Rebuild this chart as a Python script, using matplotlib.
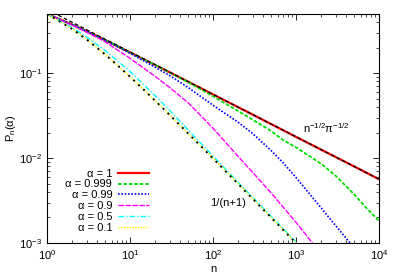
import matplotlib
matplotlib.use("Agg")
import matplotlib.pyplot as plt

plt.rcParams['font.family'] = ['Liberation Sans', 'DejaVu Sans']
plt.rcParams['mathtext.default'] = 'regular'
plt.rcParams['font.size'] = 8

# values (n, P_n(alpha))
n_a1 = [1, 2, 3, 5, 10, 20, 30, 50, 100, 200, 300, 500, 1000, 2000, 3000, 5000, 10000]
p_a1 = [0.5, 0.375, 0.3125, 0.246, 0.176, 0.1254, 0.1026, 0.0796, 0.0563, 0.0399, 0.0326,
        0.0252, 0.0178, 0.0126, 0.0103, 0.0080, 0.00564]

n_a0999 = [1, 2, 3, 5, 10, 20, 30, 50, 100, 200, 300, 500, 700, 1000, 2000, 3000, 5000, 7000, 10000]
p_a0999 = [0.5, 0.375, 0.3125, 0.246, 0.176, 0.1253, 0.1022, 0.0785, 0.0535, 0.036, 0.0284,
           0.0209, 0.0163, 0.0134, 0.0086, 0.0062, 0.00375, 0.0026, 0.00182]

n_a099 = [1, 2, 3, 5, 10, 20, 30, 50, 100, 200, 300, 500, 700, 1000, 2000, 3000, 5000]
p_a099 = [0.5, 0.375, 0.312, 0.245, 0.172, 0.118, 0.094, 0.068, 0.042, 0.0265, 0.0195,
          0.0123, 0.0088, 0.0059, 0.0026, 0.0016, 0.00088]

n_a09 = [1, 2, 3, 5, 10, 20, 30, 50, 100, 200, 300, 500, 1000, 1600]
p_a09 = [0.5, 0.37, 0.305, 0.235, 0.15, 0.092, 0.068, 0.045, 0.0225, 0.0105, 0.0068,
         0.0039, 0.00175, 0.00098]

n_a05 = [1, 2, 3, 5, 10, 20, 30, 50, 100, 200, 300, 500, 1000, 1100]
p_a05 = [0.5, 0.345, 0.267, 0.185, 0.105, 0.0545, 0.0365, 0.0215, 0.0106, 0.0052, 0.00345,
         0.00207, 0.00103, 0.00094]

n_a01 = [1, 2, 3, 5, 10, 20, 50, 100, 200, 500, 1000, 1050]
p_a01 = [0.5, 0.335, 0.252, 0.168, 0.0915, 0.048, 0.0197, 0.01, 0.005, 0.002, 0.001, 0.00095]

# reference curves
n_sqrt = [1, 10000]
p_sqrt = [0.5642, 0.005642]
n_inv = [1, 2, 3, 5, 7, 10, 15, 20, 30, 50, 70, 100, 200, 500, 1000, 1100]
p_inv = [0.5, 0.3333, 0.25, 0.1667, 0.125, 0.0909, 0.0625, 0.0476, 0.0323, 0.0196, 0.0141,
         0.0099, 0.004975, 0.001996, 0.000999, 0.000908]

labels = ['α = 1', 'α = 0.999', 'α = 0.99', 'α = 0.9', 'α = 0.5', 'α = 0.1']

fig = plt.figure(figsize=(3.99, 2.79), dpi=100)
ax = fig.add_axes([0.118, 0.129, 0.832, 0.821])

ax.plot(n_a1, p_a1, color='#ff0000', lw=1.6, label=labels[0])
ax.plot(n_a0999, p_a0999, color='#00dd00', lw=1.3, ls=(0, (2, 1)), label=labels[1])
ax.plot(n_a099, p_a099, color='#0000ff', lw=1.2, ls=(0, (1, 1)), label=labels[2])
ax.plot(n_a09, p_a09, color='#ff00ff', lw=1.0, ls=(0, (4, 1)), label=labels[3])
ax.plot(n_a05, p_a05, color='#00ffff', lw=1.0, ls=(0, (4, 1.5, 1, 1.5)), label=labels[4])
ax.plot(n_a01, p_a01, color='#ffff00', lw=1.0, ls=(0, (1, 1)), label=labels[5])

ax.plot(n_sqrt, p_sqrt, color='black', lw=0.9, ls=(0, (3, 2)))
ax.plot(n_inv, p_inv, color='black', lw=1.4, ls=(0, (1, 2.5)))

ax.set_xscale('log')
ax.set_yscale('log')
ax.set_xlim(1, 1e4)
ax.set_ylim(1e-3, 0.5)

ax.tick_params(which='both', direction='in', top=True, right=True)
ax.tick_params(which='major', length=4, width=0.6)
ax.tick_params(which='minor', length=2, width=0.5)
for s in ax.spines.values():
    s.set_linewidth(0.8)

ax.set_xlabel('n', labelpad=2)
ax.set_ylabel(r'P$_n$(α)', labelpad=1)

ax.text(1200, 0.0197, r'n$^{-1/2}$π$^{-1/2}$', fontsize=8, va='baseline')
ax.text(92, 0.00295, '1/(n+1)', fontsize=8, va='center')

ax.legend(loc='lower left', bbox_to_anchor=(0.025, 0.0), frameon=False, markerfirst=False,
          handlelength=2.8, handletextpad=0.55, labelspacing=0.08, borderaxespad=0.5,
          fontsize=8)

fig.savefig('out.png', dpi=100)
